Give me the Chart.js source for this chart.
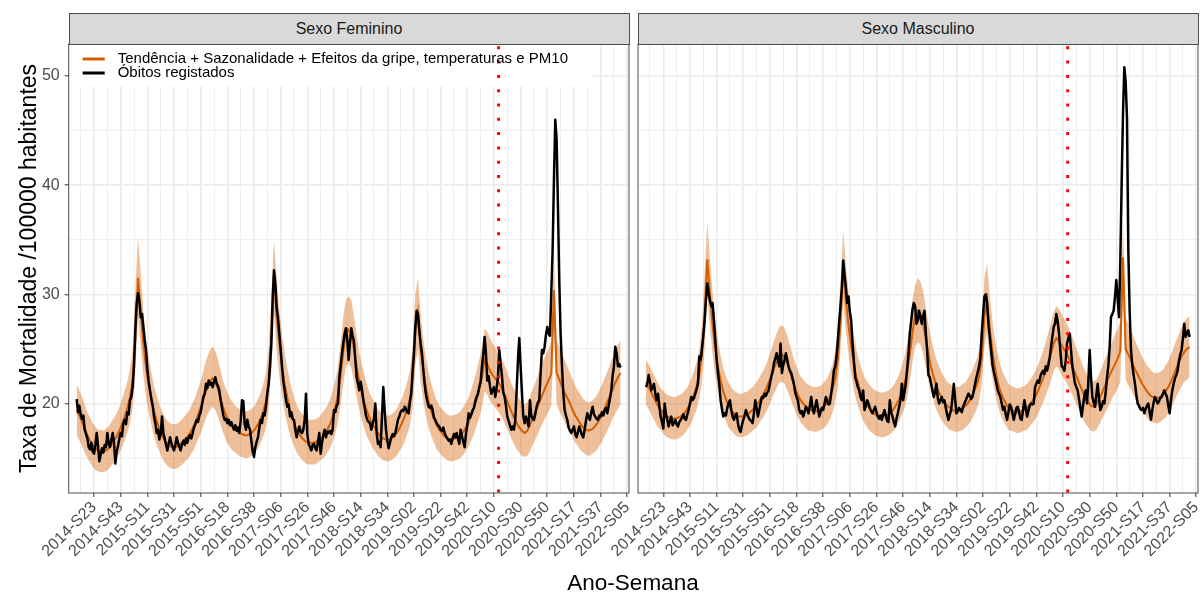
<!DOCTYPE html>
<html><head><meta charset="utf-8">
<script src="https://cdn.jsdelivr.net/npm/chart.js@4.4.1/dist/chart.umd.min.js"></script>
<style>
html,body{margin:0;padding:0;background:#fff;width:1204px;height:595px;overflow:hidden;font-family:"Liberation Sans",Arial,sans-serif}
.box{position:absolute;top:0;height:595px}
.strip{position:absolute;top:13px;height:32px;background:#D9D9D9;border:1px solid #4D4D4D;box-sizing:border-box;color:#1A1A1A;font-size:16px;line-height:30px;text-align:center}
#xtitle{position:absolute;left:433px;width:400px;top:571px;text-align:center;font-size:22.5px;color:#000;line-height:24px}
</style></head><body>
<div class="box" style="left:0;width:633px"><canvas id="cl"></canvas></div>
<div class="box" style="left:575px;width:629px"><canvas id="cr"></canvas></div>
<div class="strip" id="s0" style="left:68.5px;width:561px"></div>
<div class="strip" id="s1" style="left:637.5px;width:561px"></div>
<div id="xtitle"></div>
<script>
// ---------- labels ----------
const tickLabels = ['2014-S23','2014-S43','2015-S11','2015-S31','2015-S51','2016-S18','2016-S38','2017-S06','2017-S26','2017-S46','2018-S14','2018-S34','2019-S02','2019-S22','2019-S42','2020-S10','2020-S30','2020-S50','2021-S17','2021-S37','2022-S05'];
const panelTitles = ['Sexo Feminino','Sexo Masculino'];
const legendLabels = ['Tendência + Sazonalidade + Efeitos da gripe, temperaturas e PM10','Óbitos registados'];
const yTitle = 'Taxa de Mortalidade /100000 habitantes';
const xTitle = 'Ano-Semana';
const yTickValues = [20,30,40,50];
// weeks are counted from 2014-S23 (= 0); labelled ticks every 20 weeks
const tickStepWeeks = 20;
const obsStartWeek = -13;     // 2014-S10
const fitStartWeek = -13;
const fitStepWeeks = 2;
const covidWeek = 303.5;      // 2020-S13/S14

// ---------- Sexo Feminino ----------
const femObs = [
20.4,19.2,19.8,19.0,18.6,18.9,17.6,17.2,16.8,16.0,
15.8,16.4,15.6,15.4,16.2,17.3,16.1,14.7,15.3,15.9,
15.5,16.2,16.0,17.3,16.3,16.0,16.7,17.3,16.4,14.5,
15.6,16.1,16.8,17.3,17.0,18.2,18.5,18.1,19.2,19.0,
20.3,20.6,21.5,23.5,26.8,29.2,30.1,29.4,27.9,28.2,
27.0,25.8,24.9,23.2,22.0,21.2,20.4,19.8,18.8,18.2,
17.3,17.6,16.7,17.2,18.8,17.3,16.8,16.2,15.7,16.3,
16.9,16.4,16.0,15.7,16.2,16.9,16.4,16.0,15.7,16.3,
16.6,16.2,16.8,16.4,16.9,17.1,16.8,17.3,17.8,18.1,
18.5,18.3,18.9,19.2,19.9,20.6,20.9,21.8,21.4,22.1,
21.7,21.9,21.5,22.0,22.4,21.8,21.6,21.2,20.3,19.6,
18.9,18.5,18.6,18.2,18.5,18.0,18.3,17.9,17.6,18.0,
17.5,17.8,17.3,18.4,20.3,20.2,18.1,17.6,18.5,17.9,
17.6,16.6,15.6,15.1,16.0,16.5,16.9,17.8,18.5,18.2,
19.1,18.9,19.8,20.9,21.8,23.4,25.5,29.6,32.2,31.0,
28.8,27.9,26.4,25.0,23.4,22.0,21.2,20.3,19.7,19.9,
18.8,19.2,18.6,18.5,17.6,16.9,17.5,17.9,17.4,17.3,
17.6,18.5,20.9,17.2,16.3,16.0,15.7,16.2,16.3,15.9,
15.7,16.5,17.3,15.4,16.4,17.1,17.6,16.9,17.4,17.3,
17.5,17.2,17.6,19.4,19.2,19.8,20.0,22.4,23.5,24.6,
25.6,26.4,26.9,25.8,24.0,25.6,26.9,26.2,25.7,24.0,
22.4,21.8,21.2,22.0,21.3,20.3,19.6,18.9,18.5,18.3,
18.2,17.6,18.1,18.6,20.0,17.3,16.3,16.5,16.0,18.8,
21.5,19.4,17.6,16.6,15.9,16.4,16.9,17.2,17.0,17.3,
17.9,18.5,18.8,19.2,19.4,19.3,19.7,19.5,19.2,19.1,
20.2,20.9,23.0,24.6,27.0,28.5,28.2,26.7,25.5,24.6,
23.1,21.8,20.8,20.2,19.7,19.6,19.8,19.4,18.7,18.5,
18.2,18.0,17.9,17.6,17.5,17.8,17.3,17.0,16.8,16.6,
16.7,16.3,16.8,17.2,16.9,17.3,16.8,16.3,17.6,17.0,
16.5,16.0,17.2,18.0,19.1,18.7,19.0,19.4,19.6,20.2,
20.6,20.9,21.5,22.0,23.4,24.5,26.1,24.6,22.1,22.5,
21.6,20.9,21.2,21.5,20.6,21.4,22.4,24.9,23.6,22.5,
21.0,20.6,19.8,18.8,18.4,18.0,17.6,17.9,17.6,18.5,
21.2,24.0,26.0,23.4,21.0,18.8,18.2,18.8,18.4,17.9,
20.3,18.9,18.6,18.5,19.0,19.7,20.1,20.3,22.8,24.9,
24.6,25.2,26.3,27.0,26.4,26.2,30.1,34.0,40.5,46.0,
44.2,38.0,31.2,26.4,23.5,21.0,19.4,18.9,18.5,17.8,
17.5,17.3,17.6,17.9,17.2,16.9,17.4,17.9,17.5,17.1,
16.9,17.6,18.4,19.1,18.7,18.5,19.2,19.7,19.0,18.8,
18.6,18.5,18.9,18.8,19.2,18.9,19.4,19.6,19.1,19.8,
20.4,21.2,22.5,23.4,25.2,24.6,23.4,23.6,23.3];
const femFit = [
19.4,18.9,18.3,17.7,17.1,16.6,16.2,15.9,15.7,15.6,
15.6,15.7,15.9,16.2,16.6,17.0,17.5,18.1,18.8,19.6,
20.6,22.2,26.0,31.5,28.5,25.5,23.3,21.7,20.4,19.3,
18.4,17.7,17.1,16.6,16.3,16.1,16.0,16.0,16.1,16.3,
16.5,16.8,17.1,17.5,18.0,18.6,19.3,20.0,20.8,21.5,
22.0,22.3,22.0,21.3,20.4,19.6,18.9,18.4,18.0,17.7,
17.5,17.3,17.2,17.1,17.1,17.2,17.4,17.7,18.1,18.6,
19.3,20.2,22.0,26.0,31.8,28.0,25.5,23.4,21.8,20.5,
19.4,18.6,17.9,17.4,17.0,16.7,16.5,16.4,16.4,16.4,
16.5,16.7,16.9,17.2,17.6,18.1,18.8,19.6,20.8,22.6,
24.8,26.5,26.8,26.3,25.0,23.4,22.0,20.9,20.0,19.2,
18.6,18.1,17.7,17.3,17.0,16.8,16.7,16.7,16.8,17.0,
17.3,17.7,18.2,18.8,19.5,20.4,22.3,26.5,28.3,25.0,
23.0,21.4,20.2,19.3,18.6,18.0,17.6,17.3,17.0,16.8,
16.7,16.7,16.8,16.9,17.1,17.4,17.8,18.3,18.9,19.6,
20.4,21.3,22.4,24.0,23.6,23.0,22.6,22.3,22.0,21.6,
21.1,20.5,19.9,19.3,18.7,18.2,17.8,17.5,17.3,17.5,
18.0,18.6,19.2,19.8,20.4,21.0,21.6,22.1,22.7,30.4,
22.8,22.2,21.6,21.0,20.5,20.0,19.4,18.9,18.5,18.1,
17.8,17.6,17.5,17.6,17.8,18.1,18.5,19.0,19.5,20.1,
20.7,21.3,21.9,22.4,22.8];
const femHi = [
21.8,21.2,20.6,19.9,19.2,18.7,18.2,17.9,17.6,17.6,
17.5,17.7,17.9,18.3,18.7,19.1,19.7,20.4,21.2,22.0,
23.2,25.0,30.5,35.3,32.0,28.5,26.0,24.2,22.9,21.6,
20.7,19.9,19.3,18.8,18.4,18.2,18.1,18.1,18.2,18.4,
18.7,19.0,19.3,19.8,20.3,21.0,21.7,22.5,23.5,24.3,
24.9,25.2,24.8,24.0,23.0,22.0,21.3,20.7,20.3,19.9,
19.7,19.5,19.4,19.3,19.3,19.4,19.6,19.9,20.4,21.0,
21.8,22.8,25.0,29.8,35.0,31.5,28.6,26.3,24.6,23.2,
22.0,21.0,20.2,19.6,19.2,18.9,18.6,18.5,18.5,18.5,
18.6,18.8,19.1,19.4,19.8,20.4,21.2,22.1,23.4,25.5,
28.0,29.5,29.8,29.5,28.0,26.3,24.7,23.5,22.5,21.6,
20.9,20.4,19.9,19.5,19.2,19.0,18.9,18.9,19.0,19.2,
19.5,20.0,20.5,21.2,22.0,23.0,25.3,30.0,31.5,28.2,
25.9,24.1,22.8,21.8,21.0,20.3,19.8,19.5,19.2,19.0,
18.9,18.9,19.0,19.1,19.3,19.7,20.1,20.6,21.3,22.1,
23.0,24.0,25.2,26.8,26.6,26.0,25.5,25.1,24.8,24.4,
23.8,23.2,22.5,21.9,21.3,20.8,20.4,20.1,19.9,20.1,
20.6,21.3,21.9,22.6,23.2,23.9,24.5,25.0,25.7,34.0,
25.8,25.2,24.6,24.0,23.4,22.8,22.2,21.6,21.2,20.8,
20.4,20.2,20.1,20.2,20.4,20.7,21.2,21.7,22.3,22.9,
23.6,24.2,24.9,25.4,25.8];
const femLo = [
17.1,16.6,16.1,15.5,15.0,14.6,14.2,13.9,13.8,13.7,
13.7,13.8,14.0,14.3,14.6,15.0,15.4,16.0,16.6,17.3,
18.2,19.6,23.0,28.0,25.3,22.6,20.6,19.2,18.0,17.0,
16.2,15.6,15.0,14.6,14.3,14.1,14.0,14.0,14.1,14.3,
14.5,14.8,15.0,15.4,15.8,16.4,17.0,17.6,18.3,19.0,
19.4,19.7,19.4,18.8,18.0,17.3,16.6,16.2,15.8,15.6,
15.4,15.2,15.1,15.0,15.0,15.1,15.3,15.6,15.9,16.4,
17.0,17.8,19.4,23.0,28.2,24.8,22.5,20.7,19.2,18.1,
17.1,16.4,15.8,15.3,15.0,14.7,14.5,14.4,14.4,14.4,
14.5,14.7,14.9,15.1,15.5,15.9,16.5,17.3,18.3,19.9,
21.8,23.4,23.7,23.2,22.0,20.6,19.4,18.4,17.6,16.9,
16.4,15.9,15.6,15.2,15.0,14.8,14.7,14.7,14.8,15.0,
15.2,15.6,16.0,16.5,17.2,18.0,19.6,23.4,25.0,22.0,
20.2,18.8,17.8,17.0,16.4,15.8,15.5,15.2,15.0,14.8,
14.7,14.7,14.8,14.9,15.0,15.3,15.7,16.1,16.6,17.2,
18.0,18.7,19.7,21.1,20.8,20.2,19.9,19.6,19.3,18.9,
18.5,17.9,17.4,16.8,16.3,15.8,15.5,15.2,15.1,15.2,
15.6,16.2,16.7,17.2,17.8,18.3,18.8,19.3,19.8,27.0,
19.9,19.3,18.8,18.3,17.8,17.4,16.9,16.4,16.1,15.7,
15.5,15.3,15.2,15.3,15.5,15.7,16.1,16.5,17.0,17.5,
18.0,18.6,19.1,19.5,19.9];

// ---------- Sexo Masculino ----------
const masObs = [
21.5,21.8,22.6,22.0,21.2,21.5,21.8,20.9,20.3,20.9,
19.8,18.8,18.3,17.7,20.0,19.0,18.5,17.9,18.4,18.8,
18.0,18.2,18.5,18.1,17.9,18.3,18.5,18.7,19.0,18.6,
18.5,19.0,19.4,20.0,20.6,20.3,20.5,20.9,21.3,21.8,
24.3,24.0,25.0,26.2,27.6,29.5,31.0,30.1,29.4,28.9,
29.2,27.6,25.8,24.0,22.8,21.8,20.3,19.5,18.8,19.1,
18.9,19.6,20.0,20.3,19.4,18.8,18.5,18.9,19.1,18.2,
17.6,17.4,18.0,18.5,18.9,19.4,19.0,18.7,18.5,18.4,
18.2,19.1,20.3,19.6,18.8,19.4,20.0,20.6,20.5,20.9,
20.7,21.0,21.2,21.8,22.4,22.9,23.7,24.1,24.6,24.0,
23.4,25.5,22.8,23.5,24.0,24.6,24.0,23.4,23.0,22.8,
22.3,21.8,21.0,20.6,20.3,19.4,19.1,19.3,18.8,19.2,
19.7,19.5,19.1,19.8,20.6,19.6,19.1,19.7,20.3,19.6,
18.8,19.2,19.6,19.4,20.0,20.6,20.2,19.9,20.0,20.9,
21.8,23.0,23.4,24.3,25.8,27.5,29.0,30.6,33.1,31.8,
30.7,29.2,29.8,28.4,27.6,25.5,24.0,22.4,22.0,21.5,
21.2,20.6,20.3,21.2,19.4,19.8,20.3,20.0,19.6,19.3,
19.1,19.4,19.7,19.2,18.8,18.6,18.9,18.5,19.0,19.4,
18.9,18.4,18.3,20.3,19.2,18.8,18.3,17.9,18.6,19.1,
19.7,20.3,21.8,20.3,21.0,21.8,23.2,24.6,26.4,27.5,
28.6,29.2,28.9,27.3,27.6,28.5,27.9,27.3,28.0,28.5,
26.5,24.9,22.6,22.4,21.8,21.2,20.6,21.1,21.8,20.5,
20.0,20.3,20.6,20.1,20.3,19.6,19.0,18.5,19.0,19.4,
20.5,21.8,20.4,19.1,19.3,19.6,19.4,19.2,19.7,20.0,
20.3,20.6,20.9,20.7,20.4,20.6,21.2,21.8,22.4,22.9,
23.4,24.2,26.4,28.2,29.8,30.0,29.2,27.3,26.1,24.9,
23.6,22.9,22.4,21.8,21.2,20.9,20.6,20.0,19.4,19.7,
19.0,18.5,19.2,19.9,19.7,19.1,18.5,19.0,19.6,19.7,
19.2,18.6,18.5,19.4,20.3,19.6,18.8,19.3,19.8,20.0,
19.9,20.0,21.5,21.8,22.1,21.9,22.5,22.8,23.0,22.7,
23.4,23.0,23.5,24.2,25.2,26.1,27.0,27.3,28.2,27.5,
26.4,24.8,23.4,23.3,23.0,23.9,25.5,26.0,26.4,24.9,
23.4,22.6,21.8,21.5,21.2,20.4,19.6,18.8,19.8,20.7,
21.2,20.0,22.0,24.9,22.4,20.6,20.1,19.7,20.8,21.8,
20.5,19.4,19.7,20.2,20.0,21.0,22.4,23.4,25.2,27.9,
28.2,28.5,29.8,31.3,29.6,27.9,33.0,40.2,46.5,50.8,
49.5,46.2,34.0,28.5,24.9,23.5,22.6,21.8,20.8,20.0,
19.8,19.5,19.4,19.6,19.1,19.5,19.8,20.0,19.2,18.5,
19.4,20.1,20.6,20.3,20.0,20.2,20.5,20.6,20.9,21.2,
20.9,20.6,19.8,19.1,20.3,21.2,21.8,22.3,22.6,23.0,
23.9,24.5,24.9,26.0,27.3,26.1,26.4,26.7,26.1];
const masFit = [
21.9,21.5,21.0,20.5,20.0,19.6,19.3,19.0,18.8,18.7,
18.6,18.6,18.7,18.8,19.0,19.3,19.7,20.2,20.8,21.6,
22.6,24.5,28.0,33.2,30.0,27.2,25.0,23.4,22.1,21.1,
20.4,19.8,19.4,19.1,18.9,18.8,18.8,18.9,19.0,19.2,
19.4,19.7,20.0,20.4,20.8,21.3,21.9,22.5,23.2,23.8,
24.3,24.5,24.2,23.6,22.9,22.1,21.4,20.8,20.3,20.0,
19.7,19.5,19.4,19.3,19.3,19.4,19.5,19.8,20.1,20.6,
21.3,22.3,24.0,27.5,32.5,29.5,27.2,25.2,23.6,22.4,
21.5,20.8,20.2,19.8,19.5,19.2,19.0,18.9,18.8,18.8,
18.9,19.0,19.2,19.5,19.9,20.4,21.0,21.8,22.9,24.5,
26.5,28.0,28.5,28.2,27.3,25.9,24.5,23.3,22.4,21.6,
21.0,20.5,20.1,19.8,19.6,19.4,19.3,19.3,19.4,19.6,
19.8,20.1,20.5,21.0,21.6,22.4,24.2,28.0,29.5,26.8,
24.8,23.2,22.0,21.1,20.5,20.0,19.6,19.4,19.3,19.2,
19.2,19.3,19.4,19.6,19.9,20.2,20.6,21.1,21.7,22.3,
23.0,23.8,24.6,25.5,26.0,25.7,25.3,24.9,24.5,24.0,
23.4,22.8,22.2,21.6,21.0,20.5,20.1,19.8,19.7,19.9,
20.4,20.9,21.5,22.0,22.6,23.1,23.6,24.1,24.8,33.4,
25.0,24.5,24.0,23.4,22.9,22.4,21.9,21.5,21.1,20.8,
20.6,20.5,20.5,20.6,20.8,21.1,21.5,22.0,22.6,23.2,
23.8,24.3,24.7,25.0,25.2];
const masHi = [
24.0,23.6,23.1,22.6,22.1,21.6,21.3,21.0,20.8,20.7,
20.6,20.6,20.7,20.8,21.0,21.3,21.7,22.3,23.0,23.8,
24.9,27.2,32.0,36.5,33.3,30.2,27.6,25.8,24.4,23.3,
22.5,21.9,21.5,21.2,21.0,20.9,20.9,21.0,21.1,21.3,
21.5,21.8,22.1,22.6,23.0,23.5,24.2,24.9,25.7,26.4,
27.0,27.2,26.9,26.2,25.4,24.5,23.7,23.0,22.5,22.2,
21.9,21.7,21.6,21.5,21.5,21.6,21.7,22.0,22.3,22.9,
23.6,24.8,26.8,31.0,35.8,32.8,30.2,28.0,26.2,24.9,
23.9,23.1,22.4,22.0,21.7,21.4,21.2,21.1,21.0,21.0,
21.1,21.2,21.4,21.7,22.1,22.7,23.4,24.3,25.5,27.3,
29.5,30.8,31.5,31.2,30.3,28.8,27.2,25.9,24.9,24.0,
23.4,22.8,22.4,22.0,21.8,21.6,21.5,21.5,21.6,21.8,
22.0,22.4,22.8,23.4,24.0,24.9,27.0,31.5,32.8,29.8,
27.6,25.8,24.5,23.5,22.8,22.3,21.8,21.6,21.5,21.4,
21.4,21.5,21.6,21.8,22.1,22.5,22.9,23.5,24.1,24.8,
25.6,26.5,27.4,28.4,28.9,28.6,28.2,27.7,27.3,26.7,
26.1,25.4,24.7,24.1,23.4,22.9,22.4,22.1,22.0,22.2,
22.7,23.3,23.9,24.5,25.2,25.7,26.3,26.8,27.6,36.6,
27.8,27.3,26.7,26.1,25.5,24.9,24.4,23.9,23.5,23.2,
22.9,22.8,22.8,22.9,23.1,23.5,23.9,24.5,25.1,25.8,
26.4,27.0,27.5,27.8,28.0];
const masLo = [
19.9,19.5,19.0,18.5,18.0,17.7,17.4,17.1,16.9,16.8,
16.7,16.7,16.8,16.9,17.1,17.4,17.8,18.2,18.8,19.5,
20.4,22.0,25.0,30.0,27.0,24.5,22.5,21.1,19.9,19.0,
18.4,17.8,17.5,17.2,17.0,16.9,16.9,17.0,17.1,17.3,
17.5,17.7,18.0,18.4,18.7,19.2,19.7,20.3,20.9,21.4,
21.9,22.0,21.8,21.2,20.6,19.9,19.3,18.7,18.3,18.0,
17.7,17.5,17.5,17.4,17.4,17.5,17.6,17.8,18.1,18.5,
19.2,20.1,21.6,24.8,29.3,26.6,24.5,22.7,21.2,20.2,
19.4,18.7,18.2,17.8,17.5,17.3,17.1,17.0,16.9,16.9,
17.0,17.1,17.3,17.5,17.9,18.4,18.9,19.6,20.6,22.0,
23.8,25.2,25.6,25.4,24.6,23.3,22.0,21.0,20.2,19.4,
18.9,18.4,18.1,17.8,17.6,17.5,17.4,17.4,17.5,17.6,
17.8,18.1,18.4,18.9,19.4,20.2,21.8,25.2,26.5,24.1,
22.3,20.9,19.8,19.0,18.4,18.0,17.6,17.5,17.4,17.3,
17.3,17.4,17.5,17.6,17.9,18.2,18.5,19.0,19.5,20.1,
20.7,21.4,22.1,23.0,23.4,23.1,22.6,22.2,21.8,21.3,
20.8,20.2,19.7,19.1,18.6,18.1,17.8,17.5,17.4,17.6,
18.0,18.5,19.0,19.5,20.0,20.5,20.9,21.4,22.0,30.1,
22.2,21.7,21.3,20.7,20.3,19.9,19.4,19.1,18.7,18.4,
18.3,18.2,18.2,18.3,18.5,18.7,19.1,19.5,20.1,20.6,
21.1,21.6,22.0,22.2,22.4];

// ---------- styling ----------
const FONT = '"Liberation Sans", Arial, sans-serif';
const ORANGE = 'rgb(213,94,0)';
const BAND = 'rgba(213,94,0,0.40)';
const GRID = '#EBEBEB';
const FRAME = '#4D4D4D';
const AXIS_MIN = {x:-19, y:11.8};
const AXIS_MAX = {x:401.3, y:52.93};

Chart.defaults.font.family = FONT;
Chart.defaults.animation = false;

function toPoints(arr, start, step){ return arr.map((v,k)=>({x:start+k*step, y:v})); }

const panelFrame = {
  id:'panelFrame',
  afterDraw(chart){
    const {ctx, chartArea:a} = chart;
    ctx.save(); ctx.strokeStyle=FRAME; ctx.lineWidth=1;
    ctx.strokeRect(a.left, a.top, a.right-a.left, a.bottom-a.top);
    ctx.restore();
  }
};
const insideLegend = {
  id:'insideLegend',
  beforeDatasetsDraw(chart){
    const {ctx, chartArea:a} = chart;
    ctx.save(); ctx.fillStyle='#fff'; ctx.fillRect(a.left+0.5, a.top+0.5, 522, 42); ctx.restore();
  },
  afterDatasetsDraw(chart){
    const {ctx, chartArea:a} = chart;
    ctx.save();
    ctx.lineWidth = 3; ctx.lineCap='butt';
    ctx.strokeStyle = ORANGE; ctx.beginPath(); ctx.moveTo(a.left+14, a.top+15); ctx.lineTo(a.left+36, a.top+15); ctx.stroke();
    ctx.strokeStyle = '#000'; ctx.beginPath(); ctx.moveTo(a.left+14, a.top+29); ctx.lineTo(a.left+36, a.top+29); ctx.stroke();
    ctx.fillStyle = '#000'; ctx.font = '15px ' + FONT; ctx.textBaseline = 'middle'; ctx.textAlign='left';
    ctx.fillText(legendLabels[0], a.left+49, a.top+15);
    ctx.fillText(legendLabels[1], a.left+49, a.top+29);
    ctx.restore();
  }
};

function makeChart(canvasId, obs, fit, lo, hi, isLeft){
  const isMajorX = v => Math.round(v) % tickStepWeeks === 0;
  const isMajorY = v => yTickValues.includes(Math.round(v*10)/10);
  return new Chart(document.getElementById(canvasId), {
    type:'line',
    data:{ datasets:[
      { data:[{x:covidWeek,y:AXIS_MAX.y},{x:covidWeek,y:AXIS_MIN.y}], borderColor:'#FF0000', borderWidth:3, borderDash:[3,11.3], borderDashOffset:12, pointRadius:0, order:0, fill:false },
      { data:toPoints(obs, obsStartWeek, 1), borderColor:'#000', borderWidth:2.5, pointRadius:0, order:1, fill:false, borderJoinStyle:'round' },
      { data:toPoints(fit, fitStartWeek, fitStepWeeks), borderColor:ORANGE, borderWidth:2, pointRadius:0, order:2, fill:false },
      { data:toPoints(hi, fitStartWeek, fitStepWeeks), borderWidth:0, borderColor:'rgba(0,0,0,0)', backgroundColor:BAND, pointRadius:0, order:3, fill:'+1' },
      { data:toPoints(lo, fitStartWeek, fitStepWeeks), borderWidth:0, borderColor:'rgba(0,0,0,0)', pointRadius:0, order:4, fill:false }
    ]},
    options:{
      responsive:true, maintainAspectRatio:false, animation:false, events:[], parsing:false,
      layout:{ padding:{ left:isLeft?0:63, right:isLeft?4:6, top:44, bottom:0 } },
      plugins:{ legend:{display:false}, tooltip:{enabled:false} },
      scales:{
        x:{ type:'linear', min:AXIS_MIN.x, max:AXIS_MAX.x,
            ticks:{ stepSize:10, includeBounds:false, autoSkip:false, minRotation:45, maxRotation:45, padding:1,
                    color:'#4D4D4D', font:{size:16, family:FONT},
                    callback:(v)=>{ const r=Math.round(v); return (r%tickStepWeeks===0 && r>=0 && r/tickStepWeeks<tickLabels.length) ? tickLabels[r/tickStepWeeks] : ''; } },
            grid:{ color:GRID, lineWidth:c=> (c.tick && isMajorX(c.tick.value)) ? 1.6 : 0.8,
                   tickLength:4, tickWidth:1, tickColor:c=> (c.tick && isMajorX(c.tick.value)) ? '#333' : 'rgba(0,0,0,0)' },
            border:{display:false},
            afterFit:(s)=>{ s.height = 102; s.paddingLeft = 0; s.paddingRight = 0; } },
        y:{ type:'linear', min:AXIS_MIN.y, max:AXIS_MAX.y,
            ticks:{ display:isLeft, stepSize:5, includeBounds:false, padding:5, color:'#4D4D4D', font:{size:16, family:FONT},
                    callback:(v)=> isMajorY(v) ? String(v) : '' },
            grid:{ color:GRID, lineWidth:c=> (c.tick && isMajorY(c.tick.value)) ? 1.6 : 0.8, drawTicks:isLeft,
                   tickLength:4, tickWidth:1, tickColor:c=> (c.tick && isMajorY(c.tick.value)) ? '#333' : 'rgba(0,0,0,0)' },
            border:{display:false},
            title:{ display:isLeft, text:yTitle, color:'#000', font:{size:23, family:FONT}, padding:{top:16, bottom:0} },
            afterFit:(s)=>{ s.width = isLeft ? 68.7 : 0; s.paddingTop = 0; s.paddingBottom = 0; } }
      }
    },
    plugins: isLeft ? [insideLegend, panelFrame] : [panelFrame]
  });
}

document.getElementById('s0').textContent = panelTitles[0];
document.getElementById('s1').textContent = panelTitles[1];
document.getElementById('xtitle').textContent = xTitle;
makeChart('cl', femObs, femFit, femLo, femHi, true);
makeChart('cr', masObs, masFit, masLo, masHi, false);
</script>
</body></html>
